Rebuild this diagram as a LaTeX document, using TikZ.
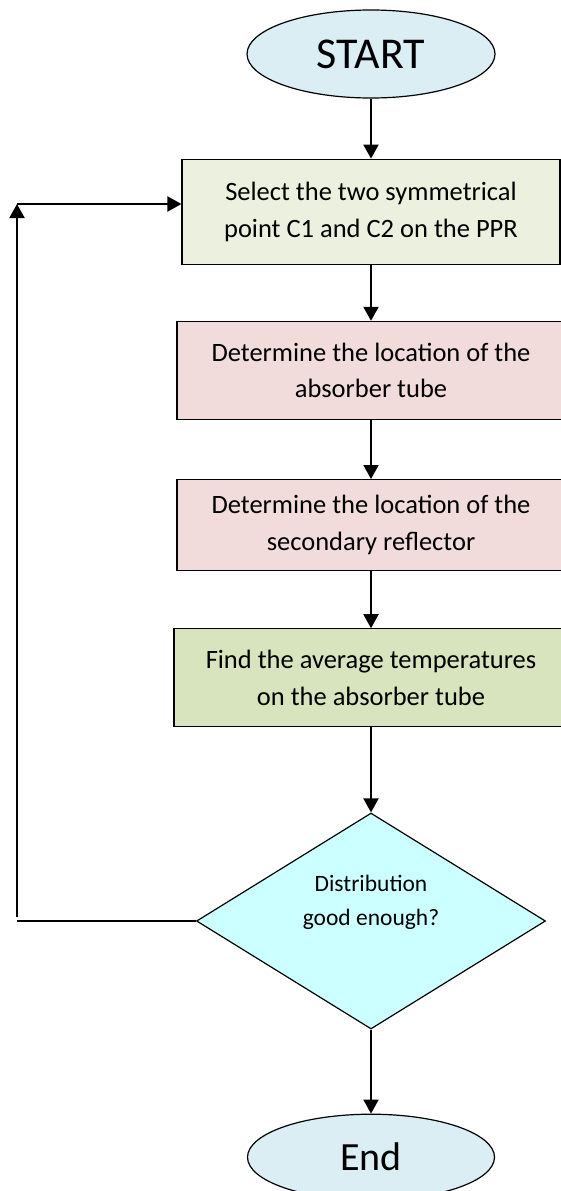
\documentclass[tikz,border=0pt]{standalone}
\usepackage{fontspec}
\setmainfont{Carlito}
\usetikzlibrary{positioning}
\usetikzlibrary{shapes.geometric}
\usetikzlibrary{arrows.meta}

\definecolor{termblue}{HTML}{DBEEF4}
\definecolor{selgreen}{HTML}{EBF1DE}
\definecolor{locpink}{HTML}{F2DCDB}
\definecolor{tempgreen}{HTML}{D7E4BD}
\definecolor{checkcyan}{HTML}{CCFFFF}

\tikzset{
  terminal/.style={draw, ellipse, fill=termblue, line width=1.2pt, minimum width=248pt, minimum height=88pt, font=\fontsize{40}{48}\selectfont},
  process/.style={draw, line width=1.2pt, text badly centered, text width=360pt, font=\fontsize{26.5}{36.7}\selectfont},
  decision/.style={draw, diamond, aspect=1.6, fill=checkcyan, line width=1.2pt, inner sep=0pt, minimum width=349pt, minimum height=216pt, align=center, font=\fontsize{23.5}{34}\selectfont},
  flow/.style={line width=2pt, -{Triangle[length=14pt,width=15pt]}}
}

\begin{document}
\begin{tikzpicture}[x=1pt,y=1pt]
  \useasboundingbox (0,0) rectangle (561,-1191);

  \node[terminal, font=\fontsize{44}{52}\selectfont] (start) at (371,-54) {START};
  \node[process, fill=selgreen, minimum width=378pt, minimum height=105pt, below=60pt of start] (select) {Select the two symmetrical\\point C1 and C2 on the PPR};
  \node[process, fill=locpink, minimum width=388pt, minimum height=98pt, below=56pt of select] (tube) {Determine the location of the\\absorber tube};
  \node[process, fill=locpink, minimum width=388pt, minimum height=91pt, below=59pt of tube] (reflector) {Determine the location of the\\secondary reflector};
  \node[process, fill=tempgreen, minimum width=394pt, minimum height=98pt, below=57pt of reflector] (temps) {Find the average temperatures\\on the absorber tube};
  \node[decision, below=85pt of temps] (check) {Distribution\\good enough?\\[8pt]};
  \node[terminal, minimum width=247pt, minimum height=86pt, below=84pt of check] (end) {End};

  \coordinate (back) at (17,-204);

  \path [flow] (start) edge (select);
  \path [flow] (select) edge (tube);
  \path [flow] (tube) edge (reflector);
  \path [flow] (reflector) edge (temps);
  \path [flow] (temps) edge (check);
  \path [flow] (check) edge (end);
  % loop back when the distribution is not good enough
  \draw[line width=2pt] (check.west) -- (check.west -| back);
  \draw[flow] ([yshift=4pt]check.west -| back) -- (back);
  \draw[flow] (back) -- (back -| select.west);
\end{tikzpicture}
\end{document}
